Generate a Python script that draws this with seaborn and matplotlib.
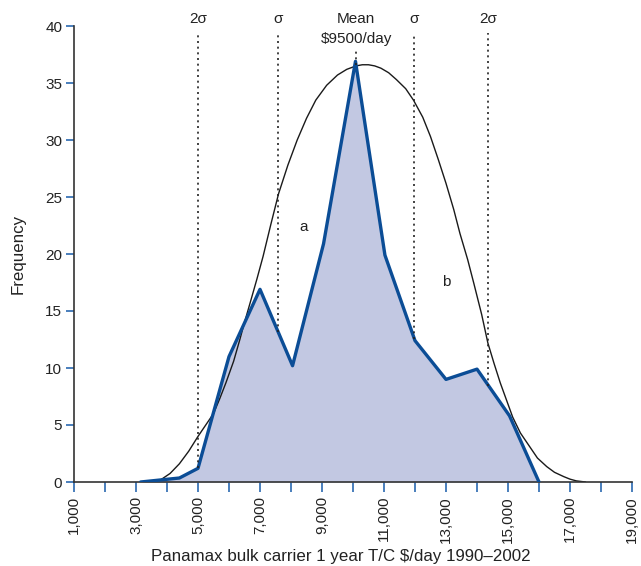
import numpy as np
import pandas as pd
import matplotlib
matplotlib.use("Agg")
import matplotlib.pyplot as plt
import seaborn as sns

# --- data ---
freq_x = [3150, 4400, 5000, 6000, 7000, 8050, 9050, 10080, 11030, 12000, 13000, 14000, 15050, 16000]
freq_y = [0.0, 0.35, 1.2, 11.0, 16.9, 10.2, 20.9, 36.9, 19.9, 12.4, 9.0, 9.9, 5.8, 0.0]

curve_x = [3450, 3800, 4100, 4400, 4700, 5000, 5250, 5500, 5700, 5900, 6150, 6350, 6500,
           6680, 6900, 7100, 7350, 7600, 7900, 8200, 8500, 8800, 9150, 9500, 9800,
           10100, 10300, 10500, 10700, 10900, 11150, 11400, 11700, 11950, 12250, 12500,
           12750, 13000, 13250, 13450, 13700, 13900, 14150, 14350, 14550, 14750, 14950,
           15150, 15400, 15700, 15950, 16250, 16500, 16800, 17000, 17200, 17500]
curve_y = [0.0, 0.2, 0.75, 1.6, 2.7, 4.0, 5.0, 6.0, 7.3, 8.7, 10.6, 12.5, 14.0,
           15.7, 17.8, 19.8, 22.6, 25.3, 27.8, 30.0, 31.9, 33.5, 34.8, 35.7, 36.2,
           36.5, 36.6, 36.6, 36.5, 36.3, 35.9, 35.3, 34.5, 33.5, 32.0, 30.3,
           28.3, 26.2, 23.9, 21.8, 19.5, 17.4, 14.7, 12.2, 10.4, 8.7, 7.2,
           5.7, 4.3, 3.1, 2.1, 1.35, 0.85, 0.47, 0.25, 0.1, 0.0]

sigma_x = [5000, 7590, 11980, 14370]
sigma_labels = ["2σ", "σ", "σ", "2σ"]
mean_x = 10100
mean_lines = ["Mean", "$9500/day"]

annot_labels = ["a", "b"]
annot_x = [8400, 13000]
annot_y = [22.4, 17.5]

x_ticks = list(range(1000, 19001, 1000))
x_tick_labels = [f"{v:,}" if (v // 1000) % 2 == 1 else "" for v in x_ticks]
y_ticks = list(range(0, 41, 5))

# --- styling ---
sns.set_theme(style="ticks")
plt.rcParams["font.family"] = ["Liberation Sans", "DejaVu Sans"]

BLUE = "#0b4d96"
FILL = "#c2c8e2"
TICKC = "#2a68b0"
TEXT = "#222222"
FS = 11.0
FS_LAB = 12.2

fig = plt.figure(figsize=(6.41, 5.66), dpi=100)
ax = fig.add_axes([74 / 641, 84 / 566, 558 / 641, 456 / 566])

df = pd.DataFrame({"x": freq_x, "y": freq_y})
cdf = pd.DataFrame({"x": curve_x, "y": curve_y})

ax.fill_between(df["x"], df["y"], 0, color=FILL, linewidth=0, zorder=1)
sns.lineplot(data=cdf, x="x", y="y", ax=ax, color="#1a1a1a", linewidth=1.0, zorder=2,
             sort=False)
sns.lineplot(data=df, x="x", y="y", ax=ax, color=BLUE, linewidth=2.4, zorder=3, sort=False)

# dotted sigma / mean lines
top_y = 39.4
for sx, lab in zip(sigma_x, sigma_labels):
    bottom = float(np.interp(sx, freq_x, freq_y))
    ax.plot([sx, sx], [bottom, top_y], color="#222222", linestyle=(0, (1.2, 2.2)),
            linewidth=1.2, zorder=4, clip_on=False)
    ax.text(sx, 40.6, lab, ha="center", va="center", fontsize=FS, color=TEXT,
            clip_on=False)
peak = float(np.interp(mean_x, freq_x, freq_y))
ax.plot([mean_x, mean_x], [peak, 38.1], color="#222222", linestyle=(0, (1.2, 2.2)),
        linewidth=1.2, zorder=4, clip_on=False)
for txt, yy in zip(mean_lines, [40.6, 38.85]):
    ax.text(mean_x, yy, txt, ha="center", va="center", fontsize=FS, color=TEXT,
            clip_on=False)

for lab, ax_, ay_ in zip(annot_labels, annot_x, annot_y):
    ax.text(ax_, ay_, lab, ha="center", va="center", fontsize=FS, color=TEXT)

ax.set_xlim(1000, 19000)
ax.set_ylim(0, 40)
ax.set_xticks(x_ticks)
ax.set_xticklabels(x_tick_labels, rotation=90, fontsize=FS, color=TEXT)
ax.set_yticks(y_ticks)
ax.set_yticklabels([str(v) for v in y_ticks], fontsize=FS, color=TEXT)
ax.tick_params(axis="x", direction="out", length=7, width=1.2, color=TICKC, pad=3)
ax.tick_params(axis="y", direction="out", length=5.5, width=1.2, color=TICKC, pad=3)

for s in ["top", "right"]:
    ax.spines[s].set_visible(False)
for s in ["left", "bottom"]:
    ax.spines[s].set_color("#333333")
    ax.spines[s].set_linewidth(1.2)

ax.set_xlabel("Panamax bulk carrier 1 year T/C $/day 1990–2002", fontsize=FS_LAB,
              color=TEXT)
ax.xaxis.set_label_coords(0.479, -0.148)
ax.set_ylabel("Frequency", fontsize=FS_LAB, color=TEXT, labelpad=14)

fig.savefig("out.png", dpi=100)
